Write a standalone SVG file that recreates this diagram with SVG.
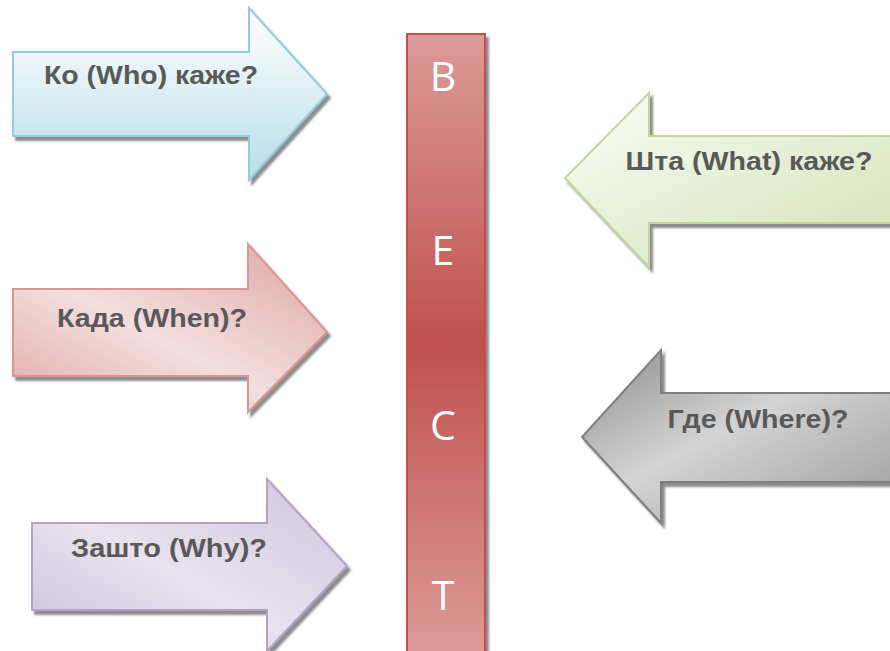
<svg xmlns="http://www.w3.org/2000/svg" width="890" height="651" viewBox="0 0 890 651">
<defs>
<filter id="sh" x="-10%" y="-10%" width="130%" height="130%">
<feDropShadow dx="3" dy="4" stdDeviation="1" flood-color="#3f3f3f" flood-opacity="0.6"/>
</filter>
<linearGradient id="gBlue" x1="0" y1="0" x2="0" y2="1">
<stop offset="0" stop-color="#ffffff"/><stop offset="0.4" stop-color="#e4f2f6"/><stop offset="1" stop-color="#b7dde8"/>
</linearGradient>
<linearGradient id="gPink" x1="0" y1="1" x2="1" y2="0">
<stop offset="0" stop-color="#e0a9a8"/><stop offset="0.45" stop-color="#f3dfde"/><stop offset="1" stop-color="#dea5a4"/>
</linearGradient>
<linearGradient id="gPurple" x1="0" y1="1" x2="1" y2="0">
<stop offset="0" stop-color="#cbbfdb"/><stop offset="0.45" stop-color="#e8e3ef"/><stop offset="1" stop-color="#cfc4dd"/>
</linearGradient>
<linearGradient id="gGreen" x1="0" y1="0" x2="1" y2="1">
<stop offset="0" stop-color="#fbfdf7"/><stop offset="0.5" stop-color="#e6efd6"/><stop offset="1" stop-color="#d3e2b6"/>
</linearGradient>
<linearGradient id="gGray" x1="0" y1="0" x2="1" y2="1">
<stop offset="0" stop-color="#8c8c8c"/><stop offset="0.45" stop-color="#d4d4d4"/><stop offset="1" stop-color="#9a9a9a"/>
</linearGradient>
<linearGradient id="gBar" x1="0" y1="0" x2="0" y2="1">
<stop offset="0" stop-color="#dc9b99"/><stop offset="0.5" stop-color="#c0504d"/><stop offset="1" stop-color="#dc9b99"/>
</linearGradient>
<style>
.lbl{font-family:"Liberation Sans",Arial,sans-serif;font-weight:bold;font-size:25px;fill:#595959;text-anchor:middle}
.let{font-family:"Open Sans","DejaVu Sans",sans-serif;font-weight:400;font-size:41px;fill:#ffffff;text-anchor:middle}
</style>
</defs>
<g id="bar">
<rect x="407" y="34" width="78" height="620" fill="url(#gBar)" stroke="#c0504d" stroke-width="2" filter="url(#sh)"/>
<text class="let" x="443" y="91">В</text>
<text class="let" x="443" y="265">Е</text>
<text class="let" x="443" y="440">С</text>
<text class="let" x="443" y="610">Т</text>
</g>
<g id="who">
<path d="M13,52 H249 V8 L327,94 L249,180 V136 H13 Z" fill="url(#gBlue)" stroke="#93cddd" stroke-width="2" filter="url(#sh)"/>
<text class="lbl" x="151" y="84" textLength="214" lengthAdjust="spacingAndGlyphs">Ко (Who) каже?</text>
</g>
<g id="when">
<path d="M13,289 H248 V244 L327,332 L248,412 V376 H13 Z" fill="url(#gPink)" stroke="#d99694" stroke-width="2" filter="url(#sh)"/>
<text class="lbl" x="152" y="327" textLength="190" lengthAdjust="spacingAndGlyphs">Када (When)?</text>
</g>
<g id="why">
<path d="M32,523 H267 V479 L347,566 L267,651 V610 H32 Z" fill="url(#gPurple)" stroke="#b3a2c7" stroke-width="2" filter="url(#sh)"/>
<text class="lbl" x="169" y="557" textLength="196" lengthAdjust="spacingAndGlyphs">Зашто (Why)?</text>
</g>
<g id="what">
<path d="M900,136 H649 V93 L565,178 L649,267 V223 H900 Z" fill="url(#gGreen)" stroke="#c3d69b" stroke-width="2" filter="url(#sh)"/>
<text class="lbl" x="749" y="170" textLength="247" lengthAdjust="spacingAndGlyphs">Шта (What) каже?</text>
</g>
<g id="where">
<path d="M900,393 H661 V350 L582,437 L661,523 V482 H900 Z" fill="url(#gGray)" stroke="#7f7f7f" stroke-width="2" filter="url(#sh)"/>
<text class="lbl" x="758" y="428" textLength="181" lengthAdjust="spacingAndGlyphs">Где (Where)?</text>
</g>
<g id="connectors"/>
</svg>
